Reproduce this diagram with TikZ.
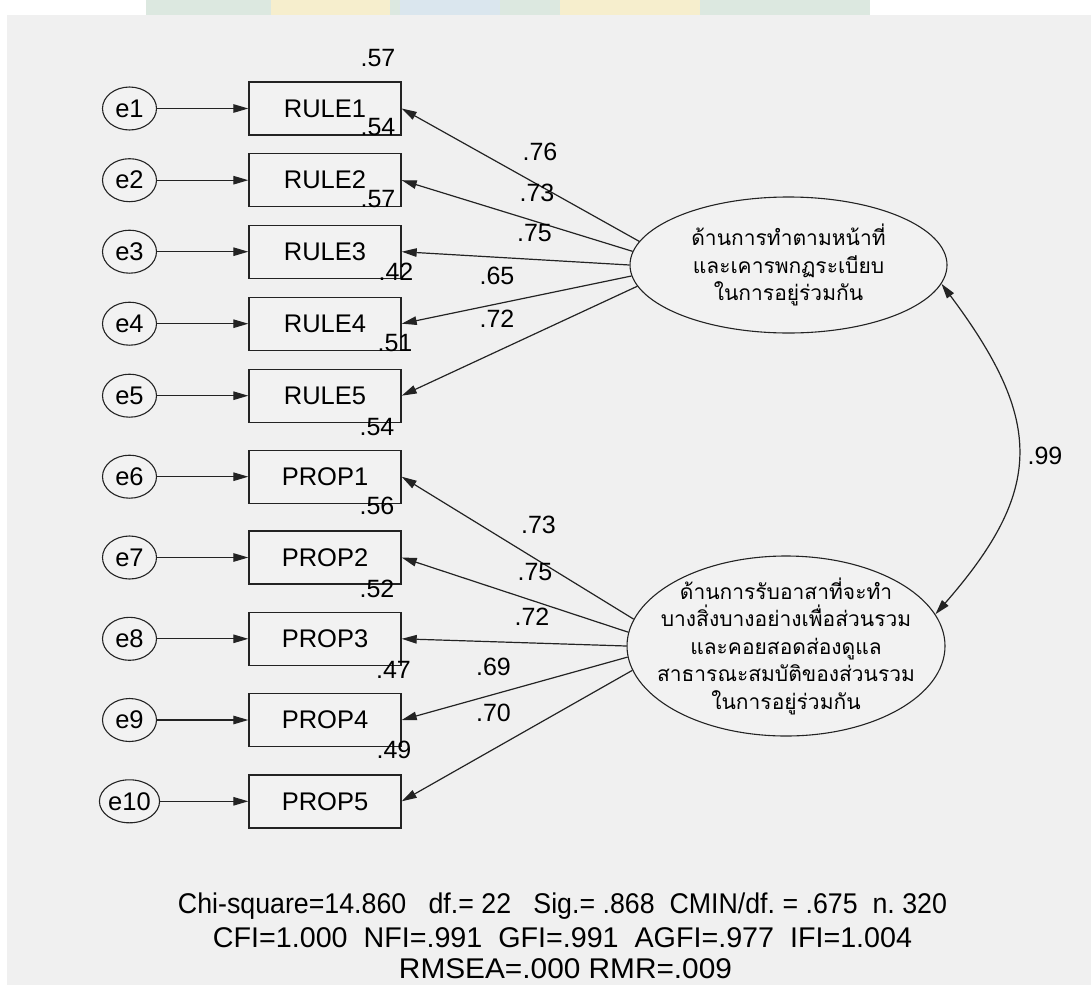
\documentclass[tikz,border=0pt]{standalone}
\usepackage{fontspec}
\setmainfont{Liberation Sans}
\newfontfamily\thaifont[Script=Thai]{Loma}
\usetikzlibrary{shapes.geometric,arrows.meta}
\definecolor{panel}{RGB}{240,240,240}
\definecolor{boxfill}{RGB}{242,242,242}
\definecolor{ink}{RGB}{35,35,35}
\definecolor{wmgreen}{RGB}{220,232,224}
\definecolor{wmyellow}{RGB}{246,238,205}
\definecolor{wmblue}{RGB}{218,230,238}
\begin{document}
\begin{tikzpicture}[x=1pt,y=-1pt,
  every node/.style={font=\fontsize{25.5}{29}\selectfont, text=black},
  obs/.style={draw=ink, line width=1.4pt, fill=boxfill, minimum width=152pt, minimum height=53pt, inner sep=0pt},
  err/.style={draw=ink, line width=1.1pt, fill=boxfill, ellipse, minimum width=54pt, minimum height=43pt, inner sep=0pt},
  lat/.style={draw=ink, line width=1.1pt, fill=boxfill, ellipse, inner sep=0pt},
  lattext/.style={align=center, inner sep=0pt, font=\thaifont\fontsize{21}{27.5}\selectfont},
  arr/.style={draw=ink, line width=1.2pt, -{Triangle[length=15pt,width=8.5pt]}},
  val/.style={inner sep=0pt, font=\fontsize{25}{29}\selectfont},
  fit/.style={inner sep=0pt, font=\fontsize{28.5}{32}\selectfont}
]
\useasboundingbox (0,0) rectangle (1091,985);
\fill[white] (0,0) rectangle (1091,985);
% faint watermark strip
\fill[wmgreen] (146,0) rectangle (870,15);
\fill[wmyellow] (271,0) rectangle (390,15);
\fill[wmblue] (400,0) rectangle (500,15);
\fill[wmyellow] (560,0) rectangle (700,15);
\fill[panel] (7,15) rectangle (1091,985);

% observed variables
\node[obs] (R1) at (325,108.5) {RULE1};
\node[obs] (R2) at (325,180.2) {RULE2};
\node[obs] (R3) at (325,251.7) {RULE3};
\node[obs] (R4) at (325,323.7) {RULE4};
\node[obs] (R5) at (325,395.7) {RULE5};
\node[obs] (P1) at (325,476.7) {PROP1};
\node[obs] (P2) at (325,557.5) {PROP2};
\node[obs] (P3) at (325,638.8) {PROP3};
\node[obs] (P4) at (325,720) {PROP4};
\node[obs] (P5) at (325,801.3) {PROP5};

% error terms
\node[err] (e1) at (129.5,108.5) {e1};
\node[err] (e2) at (129.5,180.2) {e2};
\node[err] (e3) at (129.5,251.7) {e3};
\node[err] (e4) at (129.5,323.7) {e4};
\node[err] (e5) at (129.5,395.7) {e5};
\node[err] (e6) at (129.5,476.7) {e6};
\node[err] (e7) at (129.5,557.5) {e7};
\node[err] (e8) at (129.5,638.8) {e8};
\node[err] (e9) at (129.5,720) {e9};
\node[err] (e10) at (129.5,801.3) {e10};

\foreach \e/\b in {e1/R1,e2/R2,e3/R3,e4/R4,e5/R5,e6/P1,e7/P2,e8/P3,e9/P4,e10/P5}
  \draw[arr] (\e) -- (\b);

% latent variables
\node[lat, minimum width=317pt, minimum height=136pt,
  label={[lattext]center:{ด้านการทำตามหน้าที่\\และเคารพกฏระเบียบ\\ในการอยู่ร่วมกัน}}] (L1) at (788.5,265) {};
\node[lat, minimum width=318pt, minimum height=180pt,
  label={[lattext]center:{ด้านการรับอาสาที่จะทำ\\บางสิ่งบางอย่างเพื่อส่วนรวม\\และคอยสอดส่องดูแล\\สาธารณะสมบัติของส่วนรวม\\ในการอยู่ร่วมกัน}}] (L2) at (786,646) {};

% loadings
\draw[arr] (L1.171.06) -- (R1.east);
\draw[arr] (L1.175.71) -- (R2.east);
\draw[arr] (L1.180) -- (R3.east);
\draw[arr] (L1.184.29) -- (R4.east);
\draw[arr] (L1.188.94) -- (R5.east);
\draw[arr] (L2.170.31) -- (P1.east);
\draw[arr] (L2.175.28) -- (P2.east);
\draw[arr] (L2.180) -- (P3.east);
\draw[arr] (L2.184.72) -- (P4.east);
\draw[arr] (L2.189.69) -- (P5.east);

% covariance
\draw[draw=ink, line width=1.2pt, {Triangle[length=15pt,width=8.5pt]}-{Triangle[length=15pt,width=8.5pt]}]
  (L1.-7.4) .. controls (1044,421) and (1044,490) .. (L2.12.5);
\node[val] (c99) at (1045,456) {.99};

% loading values
\node[val] (v1) at (540,152) {.76};
\node[val] (v2) at (537,193) {.73};
\node[val] (v3) at (534.5,233.5) {.75};
\node[val] (v4) at (497,276) {.65};
\node[val] (v5) at (497,318.5) {.72};
\node[val] (v6) at (538.5,525) {.73};
\node[val] (v7) at (535,572) {.75};
\node[val] (v8) at (532,617) {.72};
\node[val] (v9) at (493.5,667) {.69};
\node[val] (v10) at (493.5,713) {.70};

% squared multiple correlations
\node[val] (s1) at (378,58) {.57};
\node[val] (s2) at (378,127.5) {.54};
\node[val] (s3) at (378,199.5) {.57};
\node[val] (s4) at (396,272) {.42};
\node[val] (s5) at (395,343.5) {.51};
\node[val] (s6) at (377,427) {.54};
\node[val] (s7) at (377,506) {.56};
\node[val] (s8) at (377,588.5) {.52};
\node[val] (s9) at (393.5,669.5) {.47};
\node[val] (s10) at (394,749.5) {.49};

% fit statistics
\node[fit] (f1) at (562.5,906) {\resizebox{769pt}{\height}{Chi-square=14.860~~~df.=~22~~~Sig.=~.868~~CMIN/df.~=~.675~~n.~320}};
\node[fit] (f2) at (562.5,938) {\resizebox{699pt}{\height}{CFI=1.000~~NFI=.991~~GFI=.991~~AGFI=.977~~IFI=1.004}};
\node[fit] (f3) at (565.5,969) {\resizebox{333pt}{\height}{RMSEA=.000 RMR=.009}};
\end{tikzpicture}
\end{document}
